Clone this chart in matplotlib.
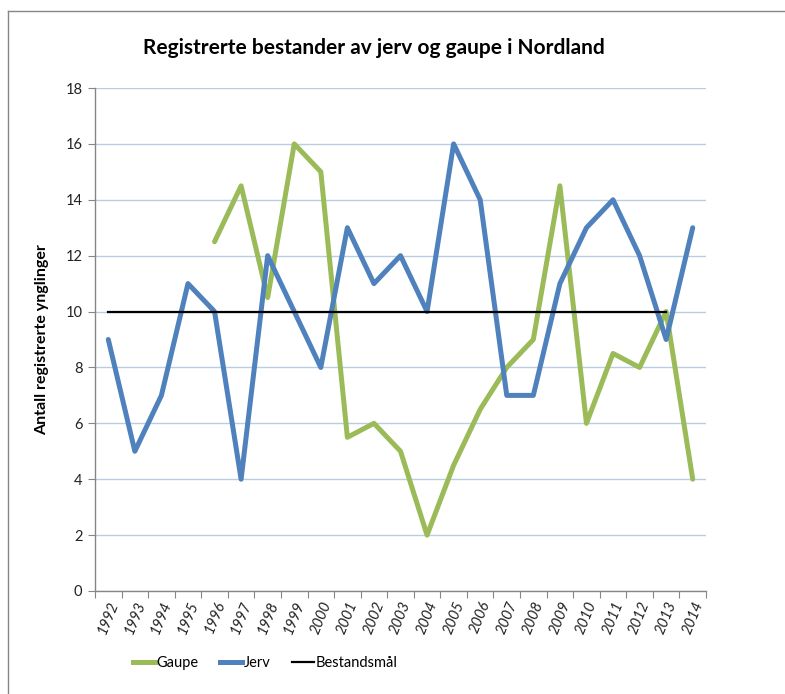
import matplotlib
matplotlib.use("Agg")
import matplotlib.pyplot as plt
import numpy as np
from matplotlib.lines import Line2D

plt.rcParams['font.family'] = ['Lato', 'DejaVu Sans']

years = [str(y) for y in range(1992, 2015)]
gaupe = [np.nan, np.nan, np.nan, np.nan, 12.5, 14.5, 10.5, 16, 15, 5.5, 6, 5, 2,
         4.5, 6.5, 8, 9, 14.5, 6, 8.5, 8, 10, 4]
jerv = [9, 5, 7, 11, 10, 4, 12, 10, 8, 13, 11, 12, 10, 16, 14, 7, 7, 11, 13, 14,
        12, 9, 13]
maal = [10] * 22 + [np.nan]

fig = plt.figure(figsize=(7.85, 6.94), dpi=100)
W, H = 785, 694
ax = fig.add_axes([95 / W, 1 - 591 / H, (706 - 95) / W, (591 - 88) / H])

x = np.arange(len(years))
ax.plot(x, gaupe, color='#9BBB59', lw=3.6, solid_capstyle='round', solid_joinstyle='round', zorder=3)
ax.plot(x, jerv, color='#4F81BD', lw=3.6, solid_capstyle='round', solid_joinstyle='round', zorder=4)
ax.plot(x, maal, color='#000000', lw=1.6, zorder=5)

ax.set_xlim(-0.5, len(years) - 0.5)
ax.set_ylim(0, 18)
ax.set_yticks(range(0, 19, 2))
ax.set_yticklabels([str(v) for v in range(0, 19, 2)], fontsize=10.5, color='#222222')
ax.yaxis.grid(True, color='#B9CDE5', lw=1)
ax.set_axisbelow(True)

ax.set_xticks(np.arange(-0.5, len(years), 1))
ax.set_xticklabels([])
ax.set_xticks(x, minor=True)
ax.set_xticklabels(years, minor=True, rotation=68, ha='right', rotation_mode='anchor',
                   fontsize=10.5, color='#222222', style='italic')
ax.tick_params(axis='x', which='minor', length=0, pad=6)
ax.tick_params(axis='x', which='major', length=5, color='#868686', direction='out')
ax.tick_params(axis='y', length=5, color='#868686', direction='out', pad=4)

for s in ['top', 'right']:
    ax.spines[s].set_visible(False)
for s in ['left', 'bottom']:
    ax.spines[s].set_color('#868686')
    ax.spines[s].set_linewidth(1)

ax.set_ylabel('Antall registrerte ynglinger', fontsize=11.5, fontweight='bold', labelpad=12)
fig.text(374 / W, 1 - 48 / H, 'Registrerte bestander av jerv og gaupe i Nordland',
         ha='center', va='center', fontsize=15, fontweight='bold')

# outer frame (top and left visible)
fig.add_artist(Line2D([8 / W, 1.0], [1 - 11 / H, 1 - 11 / H], color='#868686', lw=1, transform=fig.transFigure))
fig.add_artist(Line2D([8 / W, 8 / W], [0.0, 1 - 11 / H], color='#868686', lw=1, transform=fig.transFigure))

handles = [Line2D([], [], color='#9BBB59', lw=3.6),
           Line2D([], [], color='#4F81BD', lw=3.6),
           Line2D([], [], color='#000000', lw=1.6)]
fig.legend(handles, ['Gaupe', 'Jerv', 'Bestandsmål'], loc='center', ncol=3,
           bbox_to_anchor=(265 / W, 1 - 663 / H), frameon=False, fontsize=10.5,
           handlelength=1.5, handletextpad=0.1, columnspacing=1.5)

fig.savefig('out.png', dpi=100)
